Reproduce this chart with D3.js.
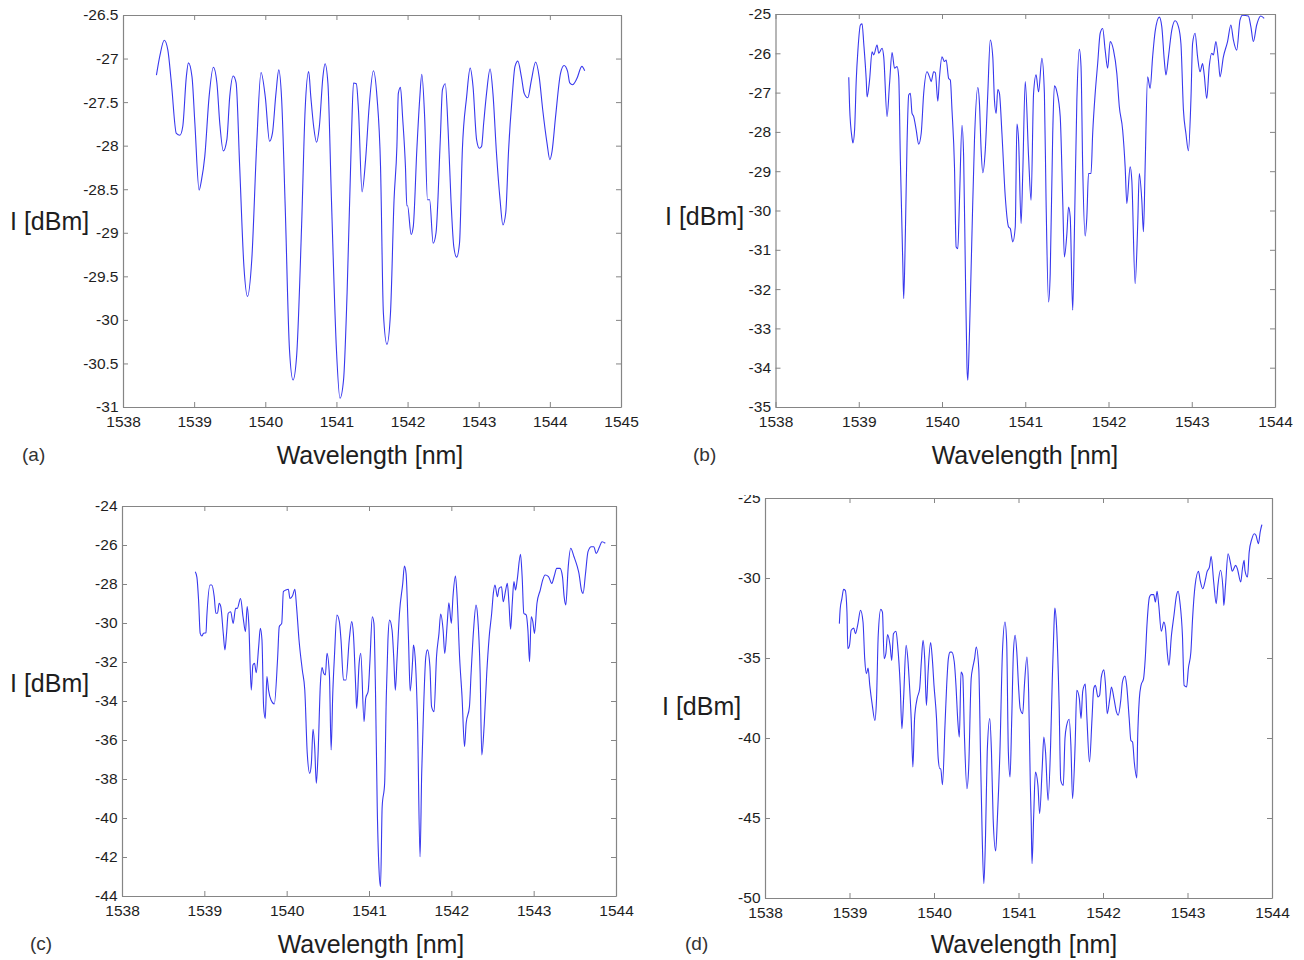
<!DOCTYPE html>
<html><head><meta charset="utf-8">
<script src="https://cdnjs.cloudflare.com/ajax/libs/d3/7.8.5/d3.min.js"></script>
<style>body{margin:0;background:#fff}svg{display:block}</style>
</head><body><svg id="chart" width="1304" height="960"></svg>
<script>
// ---------- data (wavelength nm, intensity dBm) ----------
const spectrumA = [[1538.47,-27.19],[1538.52,-26.96],[1538.58,-26.79],[1538.63,-26.90],[1538.68,-27.28],[1538.75,-27.86],[1538.80,-27.88],[1538.84,-27.78],[1538.89,-27.21],[1538.92,-27.05],[1538.97,-27.21],[1539.01,-27.74],[1539.07,-28.51],[1539.10,-28.41],[1539.15,-28.12],[1539.21,-27.44],[1539.27,-27.10],[1539.32,-27.28],[1539.36,-27.74],[1539.41,-28.06],[1539.46,-27.93],[1539.50,-27.44],[1539.55,-27.20],[1539.59,-27.28],[1539.64,-28.24],[1539.70,-29.39],[1539.75,-29.73],[1539.81,-29.31],[1539.88,-27.97],[1539.94,-27.16],[1540.00,-27.44],[1540.06,-27.95],[1540.10,-27.86],[1540.15,-27.40],[1540.19,-27.13],[1540.23,-27.47],[1540.28,-28.70],[1540.34,-30.34],[1540.39,-30.69],[1540.44,-30.42],[1540.51,-28.93],[1540.56,-27.59],[1540.61,-27.15],[1540.64,-27.44],[1540.68,-27.78],[1540.72,-27.96],[1540.76,-27.78],[1540.81,-27.21],[1540.84,-27.06],[1540.88,-27.28],[1540.93,-28.62],[1541.00,-30.34],[1541.05,-30.90],[1541.10,-30.69],[1541.15,-29.69],[1541.21,-27.93],[1541.24,-27.28],[1541.28,-27.29],[1541.31,-27.59],[1541.36,-28.53],[1541.41,-28.16],[1541.46,-27.55],[1541.52,-27.14],[1541.57,-27.44],[1541.62,-28.24],[1541.66,-29.92],[1541.71,-30.28],[1541.76,-29.92],[1541.81,-28.62],[1541.85,-28.01],[1541.87,-27.40],[1541.90,-27.33],[1541.93,-27.67],[1541.97,-28.24],[1541.99,-28.69],[1542.00,-28.69],[1542.05,-29.02],[1542.08,-28.93],[1542.13,-28.05],[1542.17,-27.47],[1542.20,-27.18],[1542.24,-27.67],[1542.28,-28.62],[1542.31,-28.62],[1542.36,-29.12],[1542.40,-29.00],[1542.46,-27.93],[1542.49,-27.36],[1542.53,-27.29],[1542.57,-27.82],[1542.61,-28.62],[1542.65,-29.16],[1542.69,-29.28],[1542.73,-29.12],[1542.77,-28.05],[1542.83,-27.44],[1542.88,-27.11],[1542.92,-27.32],[1542.97,-27.93],[1543.01,-28.03],[1543.04,-28.01],[1543.07,-27.74],[1543.11,-27.40],[1543.16,-27.12],[1543.20,-27.40],[1543.25,-28.09],[1543.30,-28.62],[1543.34,-28.91],[1543.38,-28.77],[1543.42,-28.05],[1543.47,-27.44],[1543.51,-27.09],[1543.55,-27.03],[1543.60,-27.21],[1543.64,-27.40],[1543.69,-27.45],[1543.74,-27.25],[1543.80,-27.04],[1543.85,-27.21],[1543.90,-27.59],[1543.96,-27.97],[1544.00,-28.16],[1544.03,-28.07],[1544.08,-27.67],[1544.15,-27.17],[1544.20,-27.08],[1544.25,-27.15],[1544.28,-27.28],[1544.32,-27.30],[1544.38,-27.23],[1544.45,-27.09],[1544.49,-27.14]];

const spectrumB = [[1538.88,-26.61],[1538.89,-27.36],[1538.92,-28.17],[1538.93,-28.28],[1538.95,-27.95],[1538.97,-26.68],[1538.99,-25.92],[1539.02,-25.28],[1539.04,-25.25],[1539.06,-25.75],[1539.09,-26.68],[1539.10,-27.11],[1539.13,-26.68],[1539.16,-25.96],[1539.18,-26.04],[1539.22,-25.79],[1539.24,-26.00],[1539.28,-25.87],[1539.30,-26.09],[1539.34,-27.61],[1539.37,-26.77],[1539.40,-25.98],[1539.43,-26.38],[1539.46,-26.34],[1539.48,-26.60],[1539.50,-28.72],[1539.53,-31.43],[1539.54,-32.24],[1539.56,-30.58],[1539.58,-28.29],[1539.60,-27.06],[1539.62,-27.02],[1539.64,-27.53],[1539.66,-27.61],[1539.69,-27.95],[1539.72,-28.31],[1539.75,-28.04],[1539.78,-27.02],[1539.82,-26.47],[1539.85,-26.60],[1539.87,-26.72],[1539.90,-26.47],[1539.92,-26.49],[1539.95,-27.22],[1539.97,-26.60],[1540.00,-26.09],[1540.03,-26.21],[1540.05,-26.17],[1540.08,-26.64],[1540.10,-26.68],[1540.12,-27.44],[1540.15,-28.89],[1540.17,-30.93],[1540.19,-30.97],[1540.21,-29.74],[1540.24,-27.83],[1540.26,-28.63],[1540.28,-31.43],[1540.30,-33.98],[1540.31,-34.32],[1540.33,-33.13],[1540.36,-30.59],[1540.39,-28.21],[1540.43,-26.87],[1540.45,-27.28],[1540.47,-28.46],[1540.49,-29.04],[1540.52,-28.46],[1540.55,-27.02],[1540.58,-25.66],[1540.61,-26.09],[1540.63,-27.19],[1540.65,-27.53],[1540.67,-26.92],[1540.69,-27.02],[1540.72,-28.04],[1540.76,-29.65],[1540.80,-30.42],[1540.82,-30.46],[1540.85,-30.80],[1540.88,-30.42],[1540.90,-27.80],[1540.92,-28.21],[1540.95,-30.33],[1540.97,-29.06],[1541.00,-26.72],[1541.04,-28.63],[1541.07,-29.74],[1541.10,-27.02],[1541.13,-26.55],[1541.16,-26.98],[1541.20,-26.13],[1541.23,-27.02],[1541.25,-29.74],[1541.28,-32.33],[1541.30,-31.60],[1541.33,-28.04],[1541.35,-26.83],[1541.38,-26.98],[1541.42,-27.61],[1541.45,-29.74],[1541.47,-31.18],[1541.50,-30.59],[1541.52,-29.91],[1541.54,-30.16],[1541.57,-32.54],[1541.59,-30.59],[1541.62,-27.19],[1541.65,-25.90],[1541.67,-26.34],[1541.69,-28.89],[1541.72,-30.65],[1541.74,-30.16],[1541.76,-29.06],[1541.79,-29.06],[1541.81,-28.04],[1541.84,-27.02],[1541.87,-26.26],[1541.90,-25.49],[1541.93,-25.37],[1541.96,-25.92],[1541.99,-26.38],[1542.02,-25.70],[1542.06,-25.92],[1542.10,-26.51],[1542.13,-27.36],[1542.17,-27.95],[1542.20,-28.89],[1542.22,-29.82],[1542.26,-28.89],[1542.28,-29.23],[1542.32,-31.86],[1542.35,-30.42],[1542.37,-29.06],[1542.40,-29.74],[1542.42,-30.54],[1542.44,-28.89],[1542.47,-26.60],[1542.50,-26.89],[1542.53,-26.09],[1542.56,-25.45],[1542.61,-25.08],[1542.64,-25.32],[1542.67,-26.17],[1542.69,-26.55],[1542.72,-26.09],[1542.76,-25.41],[1542.80,-25.17],[1542.84,-25.32],[1542.87,-25.75],[1542.90,-27.44],[1542.93,-28.04],[1542.96,-28.48],[1542.99,-27.19],[1543.01,-25.75],[1543.04,-25.49],[1543.07,-26.09],[1543.10,-26.47],[1543.13,-26.26],[1543.15,-26.55],[1543.18,-27.15],[1543.21,-26.34],[1543.24,-26.00],[1543.26,-26.04],[1543.29,-25.70],[1543.32,-26.17],[1543.34,-26.60],[1543.38,-26.09],[1543.43,-25.70],[1543.47,-25.28],[1543.50,-25.66],[1543.54,-25.92],[1543.58,-25.15],[1543.61,-25.03],[1543.68,-25.05],[1543.71,-25.32],[1543.74,-25.70],[1543.78,-25.28],[1543.83,-25.05],[1543.87,-25.11]];

const spectrumC = [[1538.89,-27.37],[1538.91,-27.66],[1538.93,-28.82],[1538.95,-30.53],[1538.97,-30.67],[1538.99,-30.53],[1539.02,-30.50],[1539.03,-29.68],[1539.07,-28.05],[1539.09,-28.05],[1539.12,-28.65],[1539.14,-29.50],[1539.16,-29.50],[1539.18,-28.99],[1539.20,-29.16],[1539.23,-30.53],[1539.25,-31.38],[1539.27,-30.53],[1539.29,-29.50],[1539.32,-29.42],[1539.35,-30.02],[1539.38,-29.25],[1539.40,-29.25],[1539.44,-28.74],[1539.47,-29.68],[1539.50,-30.44],[1539.52,-29.16],[1539.54,-30.02],[1539.57,-33.44],[1539.59,-32.15],[1539.61,-32.07],[1539.63,-32.55],[1539.66,-31.21],[1539.68,-30.27],[1539.70,-30.87],[1539.72,-34.29],[1539.74,-34.89],[1539.76,-32.74],[1539.78,-33.44],[1539.81,-33.95],[1539.85,-34.15],[1539.89,-31.81],[1539.91,-30.19],[1539.94,-30.02],[1539.96,-28.39],[1539.99,-28.31],[1540.02,-28.27],[1540.04,-28.74],[1540.07,-28.62],[1540.10,-28.27],[1540.12,-29.16],[1540.15,-30.87],[1540.19,-32.41],[1540.22,-33.44],[1540.25,-36.68],[1540.28,-37.71],[1540.30,-37.20],[1540.32,-35.45],[1540.34,-36.34],[1540.36,-38.22],[1540.38,-36.85],[1540.41,-33.09],[1540.43,-32.29],[1540.45,-32.58],[1540.47,-32.67],[1540.49,-31.56],[1540.52,-32.75],[1540.54,-36.51],[1540.56,-33.61],[1540.58,-31.73],[1540.61,-29.59],[1540.64,-29.93],[1540.66,-30.87],[1540.69,-32.92],[1540.72,-32.92],[1540.76,-30.87],[1540.79,-29.93],[1540.81,-30.53],[1540.84,-33.44],[1540.85,-34.38],[1540.88,-32.07],[1540.90,-31.56],[1540.94,-35.06],[1540.96,-33.86],[1540.99,-33.49],[1541.01,-32.07],[1541.04,-29.68],[1541.06,-30.02],[1541.08,-33.78],[1541.10,-39.42],[1541.12,-42.50],[1541.14,-43.52],[1541.16,-39.42],[1541.19,-38.22],[1541.21,-33.78],[1541.23,-30.87],[1541.25,-29.85],[1541.28,-30.36],[1541.30,-31.73],[1541.32,-33.44],[1541.34,-31.90],[1541.37,-29.50],[1541.41,-27.97],[1541.43,-27.08],[1541.45,-27.45],[1541.48,-30.87],[1541.50,-33.49],[1541.53,-31.90],[1541.54,-31.13],[1541.56,-31.73],[1541.59,-35.15],[1541.62,-41.99],[1541.64,-37.71],[1541.66,-34.80],[1541.69,-31.73],[1541.71,-31.38],[1541.74,-32.24],[1541.76,-34.29],[1541.79,-34.55],[1541.82,-31.73],[1541.85,-30.53],[1541.87,-29.54],[1541.90,-30.36],[1541.92,-31.56],[1541.95,-30.02],[1541.97,-28.96],[1542.00,-30.02],[1542.02,-28.65],[1542.05,-27.59],[1542.07,-28.65],[1542.10,-31.73],[1542.13,-33.78],[1542.16,-36.34],[1542.18,-35.15],[1542.22,-34.29],[1542.24,-32.58],[1542.27,-30.36],[1542.30,-29.08],[1542.32,-29.68],[1542.35,-32.58],[1542.37,-36.77],[1542.40,-35.15],[1542.43,-32.58],[1542.46,-30.70],[1542.49,-29.50],[1542.51,-28.48],[1542.53,-28.05],[1542.56,-28.65],[1542.58,-28.22],[1542.61,-28.14],[1542.63,-28.91],[1542.66,-28.31],[1542.68,-27.97],[1542.70,-28.99],[1542.72,-30.32],[1542.74,-28.99],[1542.76,-27.88],[1542.78,-28.31],[1542.80,-27.79],[1542.84,-26.48],[1542.86,-27.62],[1542.88,-29.50],[1542.91,-29.59],[1542.93,-30.36],[1542.95,-31.98],[1542.97,-29.68],[1542.99,-29.93],[1543.01,-30.53],[1543.04,-28.99],[1543.08,-28.31],[1543.11,-27.79],[1543.14,-27.54],[1543.18,-27.62],[1543.22,-27.97],[1543.25,-27.59],[1543.28,-27.20],[1543.32,-27.20],[1543.35,-27.62],[1543.37,-28.65],[1543.39,-29.08],[1543.42,-27.11],[1543.45,-26.17],[1543.49,-26.60],[1543.53,-27.11],[1543.55,-27.45],[1543.58,-28.31],[1543.60,-28.48],[1543.63,-27.45],[1543.66,-26.34],[1543.70,-26.09],[1543.73,-26.09],[1543.76,-26.43],[1543.80,-26.09],[1543.83,-25.83],[1543.87,-25.91]];

const spectrumD = [[1538.88,-32.85],[1538.89,-31.92],[1538.91,-31.29],[1538.93,-30.71],[1538.95,-30.77],[1538.97,-32.13],[1538.98,-34.42],[1539.00,-34.21],[1539.02,-33.27],[1539.05,-33.13],[1539.07,-33.48],[1539.10,-32.85],[1539.13,-32.02],[1539.16,-32.75],[1539.18,-35.04],[1539.20,-35.98],[1539.22,-35.63],[1539.24,-36.71],[1539.27,-37.96],[1539.30,-38.90],[1539.32,-37.54],[1539.34,-33.58],[1539.37,-31.96],[1539.39,-32.13],[1539.41,-35.04],[1539.43,-34.73],[1539.45,-33.54],[1539.48,-34.21],[1539.50,-35.15],[1539.52,-33.48],[1539.55,-33.33],[1539.57,-34.21],[1539.60,-36.71],[1539.62,-39.42],[1539.64,-37.54],[1539.67,-34.21],[1539.69,-35.04],[1539.71,-36.71],[1539.73,-38.79],[1539.75,-41.81],[1539.77,-38.79],[1539.80,-37.54],[1539.83,-36.92],[1539.85,-35.25],[1539.87,-33.90],[1539.89,-35.04],[1539.91,-37.96],[1539.93,-35.88],[1539.96,-34.04],[1539.98,-35.04],[1540.00,-36.71],[1540.03,-38.79],[1540.05,-41.29],[1540.07,-41.92],[1540.08,-41.92],[1540.10,-42.92],[1540.13,-39.21],[1540.15,-36.71],[1540.17,-35.04],[1540.19,-34.63],[1540.21,-34.63],[1540.24,-35.25],[1540.26,-36.71],[1540.28,-38.79],[1540.30,-39.94],[1540.32,-35.88],[1540.34,-36.08],[1540.36,-39.83],[1540.39,-43.17],[1540.41,-41.92],[1540.44,-36.29],[1540.46,-35.56],[1540.48,-35.04],[1540.50,-34.31],[1540.53,-35.67],[1540.55,-40.88],[1540.57,-46.08],[1540.59,-49.10],[1540.61,-46.08],[1540.63,-40.88],[1540.66,-38.79],[1540.68,-40.88],[1540.70,-45.04],[1540.73,-47.06],[1540.75,-45.04],[1540.78,-40.88],[1540.81,-34.63],[1540.84,-32.75],[1540.86,-34.00],[1540.88,-40.88],[1540.90,-42.44],[1540.92,-38.79],[1540.94,-34.63],[1540.96,-33.58],[1540.98,-34.63],[1541.00,-36.71],[1541.02,-38.17],[1541.05,-38.48],[1541.07,-36.71],[1541.10,-34.94],[1541.12,-37.13],[1541.14,-42.96],[1541.15,-45.04],[1541.16,-47.85],[1541.18,-44.83],[1541.20,-42.13],[1541.23,-42.96],[1541.25,-44.73],[1541.28,-41.92],[1541.30,-39.94],[1541.32,-40.88],[1541.35,-43.90],[1541.38,-40.46],[1541.40,-36.29],[1541.42,-32.96],[1541.43,-31.88],[1541.45,-32.96],[1541.48,-37.75],[1541.50,-42.65],[1541.53,-42.96],[1541.55,-40.04],[1541.57,-39.21],[1541.60,-38.83],[1541.62,-40.46],[1541.64,-43.79],[1541.67,-40.46],[1541.69,-37.02],[1541.72,-37.54],[1541.74,-38.79],[1541.76,-37.08],[1541.79,-36.63],[1541.81,-38.79],[1541.84,-41.50],[1541.87,-38.79],[1541.89,-36.92],[1541.91,-36.71],[1541.94,-37.44],[1541.96,-37.33],[1541.98,-36.19],[1542.01,-35.73],[1542.03,-36.71],[1542.05,-38.48],[1542.08,-37.54],[1542.10,-36.81],[1542.13,-37.54],[1542.16,-38.38],[1542.18,-38.58],[1542.21,-37.65],[1542.23,-36.50],[1542.26,-36.13],[1542.28,-36.71],[1542.31,-38.79],[1542.33,-40.15],[1542.35,-40.25],[1542.37,-41.50],[1542.40,-42.50],[1542.41,-40.04],[1542.43,-37.54],[1542.45,-36.71],[1542.48,-36.29],[1542.50,-35.04],[1542.52,-32.96],[1542.55,-31.19],[1542.57,-31.04],[1542.60,-31.04],[1542.62,-31.50],[1542.64,-30.83],[1542.66,-31.71],[1542.69,-33.33],[1542.72,-32.75],[1542.74,-33.17],[1542.76,-34.63],[1542.78,-35.46],[1542.81,-33.58],[1542.84,-32.33],[1542.87,-31.08],[1542.89,-30.83],[1542.91,-31.50],[1542.94,-33.58],[1542.96,-36.71],[1542.99,-36.81],[1543.01,-35.67],[1543.04,-34.63],[1543.06,-32.54],[1543.09,-30.46],[1543.13,-29.58],[1543.15,-30.15],[1543.18,-30.67],[1543.21,-30.15],[1543.23,-29.63],[1543.26,-29.31],[1543.28,-28.65],[1543.31,-30.25],[1543.34,-31.60],[1543.36,-30.46],[1543.39,-29.52],[1543.42,-30.67],[1543.43,-31.71],[1543.45,-30.46],[1543.48,-28.48],[1543.51,-29.10],[1543.53,-29.58],[1543.57,-29.21],[1543.59,-29.42],[1543.63,-30.25],[1543.65,-29.42],[1543.67,-28.90],[1543.68,-29.52],[1543.71,-29.94],[1543.73,-28.38],[1543.76,-27.58],[1543.79,-27.23],[1543.81,-27.33],[1543.84,-27.85],[1543.86,-27.13],[1543.88,-26.67]];

// ---------- ticks ----------
const xTicksA = [1538,1539,1540,1541,1542,1543,1544,1545];
const xTicksBCD = [1538,1539,1540,1541,1542,1543,1544];
const yTicksA = [-26.5,-27,-27.5,-28,-28.5,-29,-29.5,-30,-30.5,-31];
const yTicksB = [-25,-26,-27,-28,-29,-30,-31,-32,-33,-34,-35];
const yTicksC = [-24,-26,-28,-30,-32,-34,-36,-38,-40,-42,-44];
const yTicksD = [-25,-30,-35,-40,-45,-50];

const xTitle = "Wavelength [nm]";
const yTitle = "I [dBm]";
const tags = ["(a)","(b)","(c)","(d)"];

// ---------- layout ----------
const panels = [
  {data: spectrumA, xt: xTicksA,  yt: yTicksA, box:[123,621,15,407],  tag:[22,461],  xl:[370,464],  yl:[10,230]},
  {data: spectrumB, xt: xTicksBCD, yt: yTicksB, box:[775.5,1275,14,407], tag:[693,461], xl:[1025,464], yl:[665,225]},
  {data: spectrumC, xt: xTicksBCD, yt: yTicksC, box:[122,616,506,896], tag:[30,950],  xl:[371,953],  yl:[10,692]},
  {data: spectrumD, xt: xTicksBCD, yt: yTicksD, box:[765,1272,498,898], tag:[685,950], xl:[1024,953], yl:[662,715], clipTop:495}
];

const FONT = "'Liberation Sans', Arial, Helvetica, sans-serif";
const AXIS = "#858585";
const TXT = "#1e1e1e";
const LINE = "#3838ee";

const svg = d3.select("#chart");
svg.append("rect").attr("width",1304).attr("height",960).attr("fill","#fff");

panels.forEach((p, i) => {
  const [x0,x1,y0,y1] = p.box;
  const x = d3.scaleLinear().domain([p.xt[0], p.xt[p.xt.length-1]]).range([x0,x1]);
  const y = d3.scaleLinear().domain([d3.min(p.yt), d3.max(p.yt)]).range([y1,y0]);
  const g = svg.append("g");

  const clipId = "clip"+i;
  svg.append("clipPath").attr("id",clipId).append("rect")
    .attr("x",x0).attr("y",y0).attr("width",x1-x0).attr("height",y1-y0);

  const line = d3.line().x(d=>x(d[0])).y(d=>y(d[1])).curve(d3.curveMonotoneX);
  g.append("path").datum(p.data).attr("d",line)
    .attr("fill","none").attr("stroke",LINE).attr("stroke-width",1.1)
    .attr("clip-path",`url(#${clipId})`);

  const fmt = v => String(v);
  const styleAxis = sel => {
    sel.selectAll(".domain").attr("stroke",AXIS).attr("stroke-width",1.2);
    sel.selectAll(".tick line").attr("stroke",AXIS).attr("stroke-width",1);
    sel.selectAll("text").attr("fill",TXT).style("font-family",FONT).style("font-size","15.5px");
  };
  const gb = g.append("g").attr("transform",`translate(0,${y1})`)
    .call(d3.axisBottom(x).tickValues(p.xt).tickFormat(fmt).tickSizeInner(-5).tickSizeOuter(0).tickPadding(9));
  styleAxis(gb);
  const gt = g.append("g").attr("transform",`translate(0,${y0})`)
    .call(d3.axisTop(x).tickValues(p.xt).tickFormat("").tickSizeInner(-5).tickSizeOuter(0));
  styleAxis(gt);
  const gl = g.append("g").attr("transform",`translate(${x0},0)`)
    .call(d3.axisLeft(y).tickValues(p.yt).tickFormat(fmt).tickSizeInner(-5).tickSizeOuter(0).tickPadding(4.5));
  styleAxis(gl);
  const gr = g.append("g").attr("transform",`translate(${x1},0)`)
    .call(d3.axisRight(y).tickValues(p.yt).tickFormat("").tickSizeInner(-5).tickSizeOuter(0));
  styleAxis(gr);

  if (p.clipTop) {
    const cid = "lab"+i;
    svg.append("clipPath").attr("id",cid).append("rect")
      .attr("x",-400).attr("y",p.clipTop).attr("width",2000).attr("height",960-p.clipTop);
    gl.attr("clip-path",`url(#${cid})`);
  }

  g.append("text").attr("x",p.xl[0]).attr("y",p.xl[1]).attr("text-anchor","middle")
    .style("font-family",FONT).style("font-size","25px").attr("fill",TXT).text(xTitle);
  g.append("text").attr("x",p.yl[0]).attr("y",p.yl[1])
    .style("font-family",FONT).style("font-size","25px").attr("fill",TXT).text(yTitle);
  g.append("text").attr("x",p.tag[0]).attr("y",p.tag[1])
    .style("font-family",FONT).style("font-size","19px").attr("fill","#333").text(tags[i]);
});
</script>
</body></html>
